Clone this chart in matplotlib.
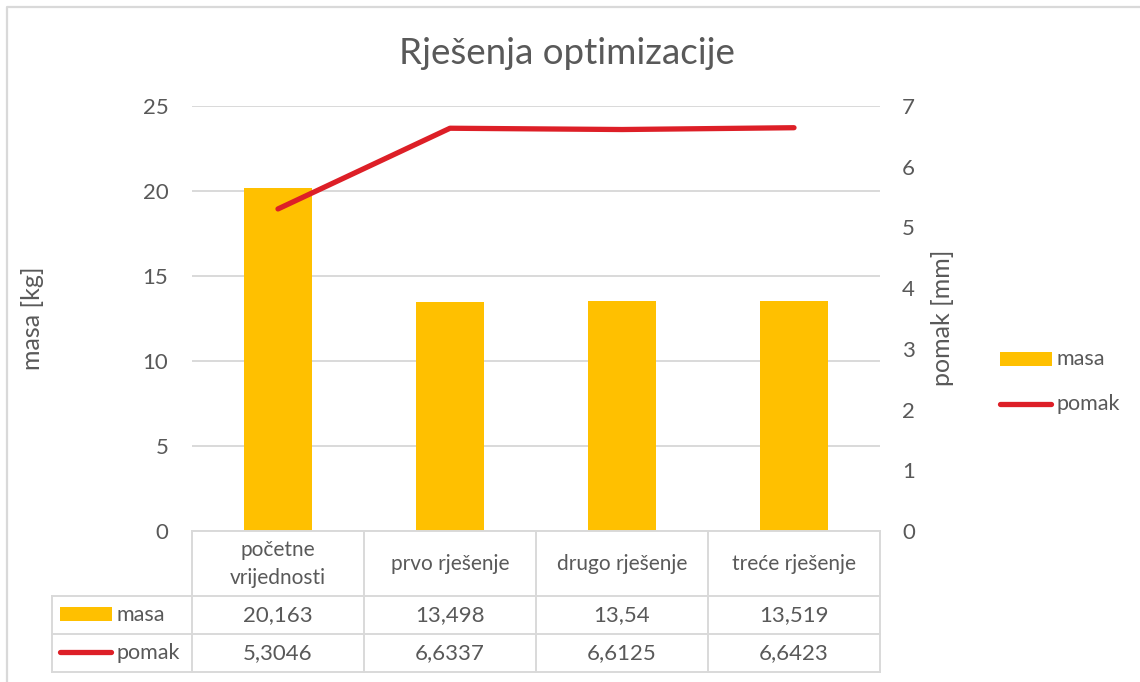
import matplotlib
matplotlib.use("Agg")
import matplotlib.pyplot as plt
from matplotlib.lines import Line2D
from matplotlib.patches import Rectangle
from matplotlib.transforms import blended_transform_factory

plt.rcParams['font.family'] = ['Lato', 'DejaVu Sans']

categories = ["početne\nvrijednosti", "prvo rješenje", "drugo rješenje", "treće rješenje"]
masa = [20.163, 13.498, 13.54, 13.519]
pomak = [5.3046, 6.6337, 6.6125, 6.6423]
masa_ticks = [0, 5, 10, 15, 20, 25]
pomak_ticks = [0, 1, 2, 3, 4, 5, 6, 7]

TEXT = '#595959'
GRID = '#D9D9D9'
BAR = '#FFC000'
LINE = '#DD1F27'

NUM_FS = 16      # numbers (ticks, table values)
WORD_FS = 15.5   # words (legend, row labels)
CAT_FS = 15      # category names

W, H = 1140, 682
fig = plt.figure(figsize=(W / 100, H / 100), dpi=100)


def fx(x):
    return x / W


def fy(y):
    return 1 - y / H


# plot area in pixel coordinates
L, R, T, B = 192, 880, 106, 531
ax = fig.add_axes([fx(L), fy(B), fx(R) - fx(L), fy(T) - fy(B)])
ax2 = ax.twinx()

x = list(range(len(categories)))
ax.bar(x, masa, width=0.4, color=BAR, zorder=2)
ax.set_xlim(-0.5, len(categories) - 0.5)
ax.set_ylim(0, 25)
ax.set_yticks(masa_ticks)
ax.yaxis.grid(True, color=GRID, lw=1.4, zorder=0)
ax.set_axisbelow(True)
ax.set_xticks([])
for s in ax.spines.values():
    s.set_visible(False)
ax.tick_params(axis='y', length=0, pad=17, labelsize=NUM_FS, labelcolor=TEXT)

ax2.plot(x, pomak, color=LINE, lw=3.8, solid_capstyle='round', solid_joinstyle='round', zorder=3)
ax2.set_ylim(0, 7)
ax2.set_yticks(pomak_ticks)
for s in ax2.spines.values():
    s.set_visible(False)
ax2.tick_params(axis='y', length=0, pad=16, labelsize=NUM_FS, labelcolor=TEXT)

# title and axis titles
fig.text(fx(567), fy(53), "Rješenja optimizacije", ha='center', va='center',
         fontsize=26.5, color=TEXT)
fig.text(fx(32), fy(318), "masa [kg]", ha='center', va='center', rotation=90,
         fontsize=18, color=TEXT)
fig.text(fx(942), fy(318), "pomak [mm]", ha='center', va='center', rotation=90,
         fontsize=18, color=TEXT)

# outer chart border
fig.add_artist(Line2D([fx(7), fx(7), fx(W + 5)], [fy(H + 5), fy(7), fy(7)],
                      transform=fig.transFigure, color=GRID, lw=1.6))

# data table below the plot area
def hline(y, x0, x1):
    fig.add_artist(Line2D([fx(x0), fx(x1)], [fy(y), fy(y)], transform=fig.transFigure,
                          color=GRID, lw=1.4))


def vline(x0, y0, y1):
    fig.add_artist(Line2D([fx(x0), fx(x0)], [fy(y0), fy(y1)], transform=fig.transFigure,
                          color=GRID, lw=1.4))


TL = 52
rows_y = [531, 596, 634, 672]
hline(rows_y[0], L, R)
for yy in rows_y[1:]:
    hline(yy, TL, R)
vline(TL, rows_y[1], rows_y[3])
col_w = (R - L) / len(categories)
for i in range(len(categories) + 1):
    vline(L + i * col_w, rows_y[0], rows_y[3])

tr = blended_transform_factory(ax.transData, fig.transFigure)
hdr_y = (rows_y[0] + rows_y[1]) / 2
masa_y = (rows_y[1] + rows_y[2]) / 2
pomak_y = (rows_y[2] + rows_y[3]) / 2


def fmt(v):
    return str(v).replace('.', ',')


for i, c in enumerate(categories):
    ax.text(i, fy(hdr_y), c, transform=tr, ha='center', va='center', fontsize=CAT_FS,
            color=TEXT, linespacing=1.5, clip_on=False)
    ax.text(i, fy(masa_y), fmt(masa[i]), transform=tr, ha='center', va='center',
            fontsize=NUM_FS, color=TEXT, clip_on=False)
    ax.text(i, fy(pomak_y), fmt(pomak[i]), transform=tr, ha='center', va='center',
            fontsize=NUM_FS, color=TEXT, clip_on=False)

# legend keys inside the table
fig.add_artist(Rectangle((fx(60), fy(621)), fx(112) - fx(60), fy(607) - fy(621),
                         transform=fig.transFigure, color=BAR, lw=0))
fig.add_artist(Line2D([fx(60), fx(111)], [fy(652), fy(652)], transform=fig.transFigure,
                      color=LINE, lw=3.8, solid_capstyle='round'))
fig.text(fx(116), fy(masa_y), "masa", ha='left', va='center', fontsize=WORD_FS, color=TEXT)
fig.text(fx(116), fy(pomak_y), "pomak", ha='left', va='center', fontsize=WORD_FS, color=TEXT)

# legend on the right
fig.add_artist(Rectangle((fx(1000), fy(366)), fx(1052) - fx(1000), fy(352) - fy(366),
                         transform=fig.transFigure, color=BAR, lw=0))
fig.add_artist(Line2D([fx(1000), fx(1051)], [fy(404), fy(404)], transform=fig.transFigure,
                      color=LINE, lw=3.8, solid_capstyle='round'))
fig.text(fx(1057), fy(359), "masa", ha='left', va='center', fontsize=WORD_FS, color=TEXT)
fig.text(fx(1057), fy(404), "pomak", ha='left', va='center', fontsize=WORD_FS, color=TEXT)

fig.savefig("out.png", dpi=100, facecolor='white')
